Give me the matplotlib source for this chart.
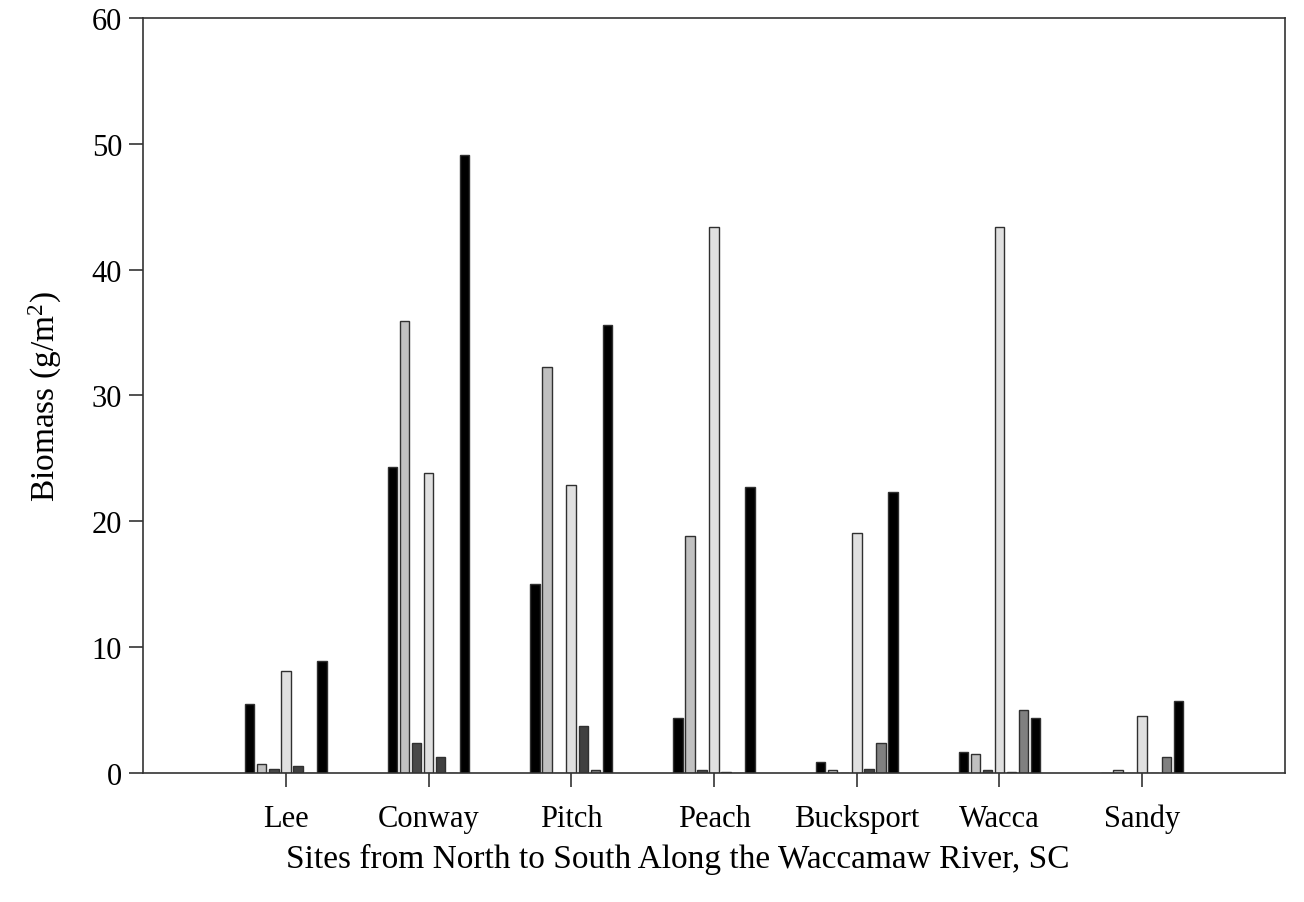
import matplotlib
matplotlib.use("Agg")
import matplotlib.pyplot as plt
import numpy as np

plt.rcParams['font.family'] = ['Liberation Serif', 'DejaVu Serif']
plt.rcParams['mathtext.fontset'] = 'custom'
plt.rcParams['mathtext.rm'] = 'Liberation Serif'
plt.rcParams['mathtext.it'] = 'Liberation Serif'

sites = ['Lee', 'Conway', 'Pitch', 'Peach', 'Bucksport', 'Wacca', 'Sandy']

# biomass (g/m2) per series, one value per site
s1 = [5.5, 24.3, 15.0, 4.4, 0.9, 1.7, 0.0]
s2 = [0.7, 35.9, 32.3, 18.8, 0.2, 1.5, 0.2]
s3 = [0.3, 2.4, 0.0, 0.2, 0.0, 0.2, 0.0]
s4 = [8.1, 23.8, 22.9, 43.4, 19.1, 43.4, 4.5]
s5 = [0.55, 1.3, 3.7, 0.1, 0.3, 0.1, 0.0]
s6 = [0.0, 0.0, 0.2, 0.0, 2.4, 5.0, 1.3]
s7 = [8.9, 49.1, 35.6, 22.7, 22.3, 4.4, 5.7]

series = [s1, s2, s3, s4, s5, s6, s7]
fills = ['#000000', '#c0c0c0', '#484848', '#e0e0e0', '#404040', '#808080', '#000000']

fig = plt.figure(figsize=(13.04, 9.03), dpi=100)
ax = fig.add_axes([0.1097, 0.1429, 0.8757, 0.8361])

x = np.arange(1, len(sites) + 1)
step = 0.0845
width = 0.067
for i, (vals, col) in enumerate(zip(series, fills)):
    ax.bar(x + (i - 3) * step, vals, width, color=col, edgecolor='#303030', linewidth=1.0)

ax.set_xlim(0, 8)
ax.set_ylim(0, 60)
ax.set_xticks(x)
ax.set_xticklabels(sites)
ax.set_yticks(range(0, 61, 10))
ax.tick_params(axis='both', direction='out', labelsize=22, length=10, width=1.2, color='#333333')
ax.tick_params(axis='x', pad=12)
ax.tick_params(axis='y', pad=5)
for sp in ax.spines.values():
    sp.set_linewidth(1.2)
    sp.set_color('#333333')

ax.set_xlabel('Sites from North to South Along the Waccamaw River, SC', fontsize=24)
ax.xaxis.set_label_coords(0.468, -0.093)
ax.set_ylabel('Biomass (g/m$^{2}$)', fontsize=24, labelpad=20)

fig.savefig('out.png', dpi=100)
